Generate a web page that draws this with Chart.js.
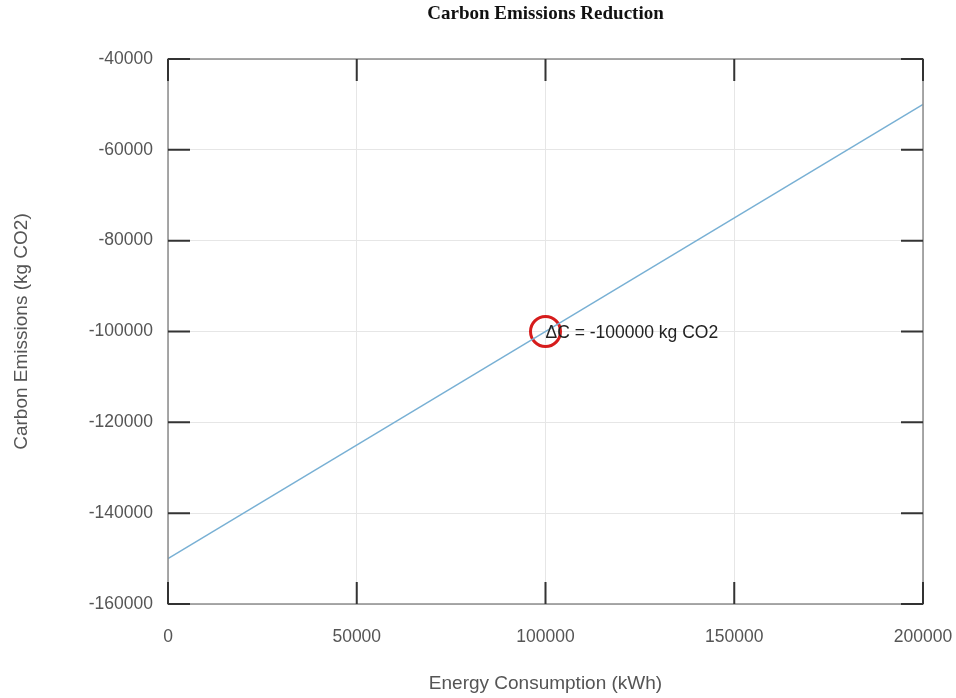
<!DOCTYPE html>
<html>
<head>
<meta charset="utf-8">
<title>Carbon Emissions Reduction</title>
<script src="https://cdn.jsdelivr.net/npm/chart.js@4/dist/chart.umd.min.js"></script>
<style>
  html, body { margin: 0; padding: 0; background: #fff; }
  #wrap { width: 956px; height: 698px; }
</style>
</head>
<body>
<div id="wrap"><canvas id="graf" width="956" height="698"></canvas></div>
<script>
// datos
const energia = [0, 200000];              // kWh
const emisiones = [-150000, -50000];      // kg CO2
const puntoX = [100000];
const puntoY = [-100000];
const etiquetaPunto = 'ΔC = -100000 kg CO2';
const titulo = 'Carbon Emissions Reduction';
const xTicks = [0, 50000, 100000, 150000, 200000];
const yTicks = [-160000, -140000, -120000, -100000, -80000, -60000, -40000];

const ctx = document.getElementById('graf').getContext('2d');

// marcas hacia adentro, borde, titulo y texto del punto
const marcos = {
  id: 'marcos',
  afterDatasetsDraw(chart) {
    const { ctx, chartArea: a, scales } = chart;
    const largo = 22;
    ctx.save();
    ctx.strokeStyle = '#8c8c8c';
    ctx.lineWidth = 1.5;
    ctx.strokeRect(a.left, a.top, a.right - a.left, a.bottom - a.top);

    ctx.strokeStyle = '#333';
    ctx.lineWidth = 2;
    ctx.beginPath();
    yTicks.forEach(v => {
      const py = scales.y.getPixelForValue(v);
      ctx.moveTo(a.left, py); ctx.lineTo(a.left + largo, py);
      ctx.moveTo(a.right, py); ctx.lineTo(a.right - largo, py);
    });
    xTicks.forEach(v => {
      const px = scales.x.getPixelForValue(v);
      ctx.moveTo(px, a.top); ctx.lineTo(px, a.top + largo);
      ctx.moveTo(px, a.bottom); ctx.lineTo(px, a.bottom - largo);
    });
    ctx.stroke();

    const tx = scales.x.getPixelForValue(puntoX[0]);
    const ty = scales.y.getPixelForValue(puntoY[0]);
    ctx.fillStyle = '#222';
    ctx.font = '17.5px "Liberation Sans", Arial, sans-serif';
    ctx.textAlign = 'left';
    ctx.textBaseline = 'middle';
    ctx.fillText(etiquetaPunto, tx, ty + 2);

    // titulo centrado sobre el area del grafico
    ctx.fillStyle = '#111';
    ctx.font = 'bold 19px "Liberation Serif", "Times New Roman", serif';
    ctx.textAlign = 'center';
    ctx.fillText(titulo, (a.left + a.right) / 2, 14);
    ctx.restore();
  }
};

const fuenteTicks = { family: '"Liberation Sans", Arial, sans-serif', size: 17.5 };
const fuenteTitulos = { family: '"Liberation Sans", Arial, sans-serif', size: 19 };

new Chart(ctx, {
  type: 'line',
  data: {
    datasets: [
      {
        label: 'Emisiones',
        data: energia.map((x, i) => ({ x: x, y: emisiones[i] })),
        borderColor: 'rgb(120, 176, 212)',
        borderWidth: 1.3,
        pointRadius: 0,
        fill: false
      },
      {
        label: 'Punto',
        data: puntoX.map((x, i) => ({ x: x, y: puntoY[i] })),
        showLine: false,
        pointRadius: 15,
        pointBorderWidth: 3,
        pointBorderColor: 'rgb(214, 28, 28)',
        pointBackgroundColor: 'rgba(0,0,0,0)'
      }
    ]
  },
  options: {
    responsive: false,
    animation: false,
    events: [],
    layout: { padding: { left: 0, right: 33, top: 59, bottom: 0 } },
    plugins: {
      legend: { display: false },
      tooltip: { enabled: false },
      title: { display: false }
    },
    scales: {
      x: {
        type: 'linear',
        min: 0,
        max: 200000,
        afterBuildTicks: s => { s.ticks = xTicks.map(v => ({ value: v })); },
        afterFit: s => { s.height = 94; s.paddingLeft = 0; s.paddingRight = 0; },
        grid: { color: '#e6e6e6', lineWidth: 1, drawTicks: false },
        border: { display: false },
        ticks: { color: '#555', font: fuenteTicks, padding: 22.5, callback: v => String(v) },
        title: { display: true, text: 'Energy Consumption (kWh)', color: '#555', font: fuenteTitulos, padding: { top: 0, bottom: 2.6 } }
      },
      y: {
        type: 'linear',
        min: -160000,
        max: -40000,
        afterBuildTicks: s => { s.ticks = yTicks.map(v => ({ value: v })); },
        afterFit: s => { s.width = 168; s.paddingTop = 0; s.paddingBottom = 0; },
        grid: { color: '#e6e6e6', lineWidth: 1, drawTicks: false },
        border: { display: false },
        ticks: { color: '#555', font: fuenteTicks, padding: 15, callback: v => String(v) },
        title: { display: true, text: 'Carbon Emissions (kg CO2)', color: '#555', font: fuenteTitulos, padding: { top: 10.5, bottom: 0 } }
      }
    }
  },
  plugins: [marcos]
});
</script>
</body>
</html>
